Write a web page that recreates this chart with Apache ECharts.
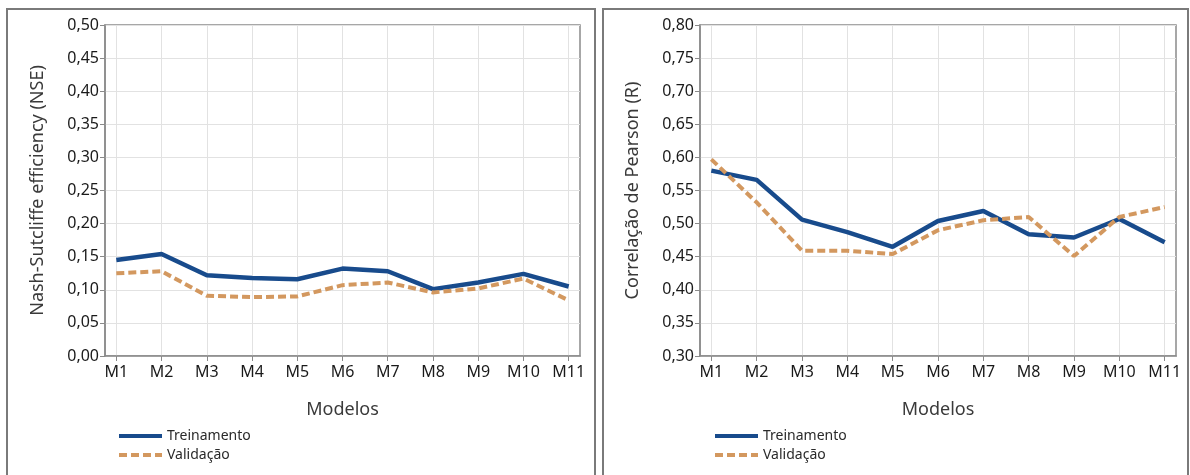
<!DOCTYPE html>
<html>
<head>
<meta charset="utf-8">
<script src="https://cdn.jsdelivr.net/npm/echarts@6/dist/echarts.min.js"></script>
<style>
html,body{margin:0;padding:0;background:#fff;}
#chart{width:1190px;height:475px;}
</style>
</head>
<body>
<div id="chart"></div>
<script>
const categories = ['M1','M2','M3','M4','M5','M6','M7','M8','M9','M10','M11'];
const nseTreino = [0.145,0.154,0.122,0.118,0.116,0.132,0.128,0.101,0.111,0.124,0.105];
const nseValid  = [0.125,0.128,0.091,0.089,0.090,0.107,0.111,0.096,0.102,0.117,0.084];
const rTreino   = [0.580,0.566,0.506,0.487,0.465,0.504,0.519,0.484,0.479,0.507,0.472];
const rValid    = [0.597,0.532,0.459,0.459,0.454,0.490,0.505,0.510,0.451,0.510,0.525];
const nseTicks = ['0,00','0,05','0,10','0,15','0,20','0,25','0,30','0,35','0,40','0,45','0,50'];
const rTicks = ['0,30','0,35','0,40','0,45','0,50','0,55','0,60','0,65','0,70','0,75','0,80'];
const seriesNames = ['Treinamento','Validação'];

const FONT = "'Noto Sans', 'Open Sans', sans-serif";
const BLUE = '#184b8c';
const ORANGE = '#d3985f';
const idx = categories.map((c,i)=>i+1);
const pairs = arr => arr.map((v,i)=>[i+1, v]);

function xAxis(gridIndex){
  return {
    type:'value', gridIndex, min:0.75, max:11.25,
    name:'Modelos', nameLocation:'middle', nameGap:45,
    nameTextStyle:{fontSize:18, color:'#3a3a3a', fontFamily:FONT},
    axisLine:{show:true, onZero:false, lineStyle:{color:'#8a8a8a', width:1.5}},
    axisTick:{show:true, customValues:idx, length:5, lineStyle:{color:'#8a8a8a'}},
    axisLabel:{customValues:idx, formatter:v=>categories[Math.round(v)-1]||'', fontSize:16, color:'#1a1a1a', fontFamily:FONT, margin:8},
    splitLine:{show:true, lineStyle:{color:'#e2e2e2', width:1}}
  };
}
function yAxis(gridIndex, min, max, ticks, name){
  return {
    type:'value', gridIndex, min, max, interval:0.05,
    name, nameLocation:'middle', nameGap:58,
    nameTextStyle:{fontSize:18, color:'#3a3a3a', fontFamily:FONT},
    axisLine:{show:true, lineStyle:{color:'#8a8a8a', width:1.5}},
    axisTick:{show:true, length:5, lineStyle:{color:'#8a8a8a'}},
    axisLabel:{fontSize:16, color:'#1a1a1a', fontFamily:FONT, margin:6,
      formatter:v=>ticks[Math.round((v-min)/0.05)]},
    splitLine:{show:true, lineStyle:{color:'#e2e2e2', width:1}}
  };
}
function line(name, data, xi, color, dashed){
  return {
    type:'line', name, xAxisIndex:xi, yAxisIndex:xi, data,
    symbol:'none', smooth:false,
    lineStyle:{color, width:dashed?4:4.5, type:dashed?[8,4]:'solid'},
    itemStyle:{color},
    z: dashed?3:2
  };
}
function legend(left){
  return {orient:'vertical', left, top:424, itemWidth:43, itemHeight:12, itemGap:5, data:seriesNames,
    itemStyle:{opacity:0}, lineStyle:{width:4},
    textStyle:{fontSize:14, color:'#2a2a2a', fontFamily:FONT}, selectedMode:false};
}

const chart = echarts.init(document.getElementById('chart'), null, {renderer:'canvas'});
chart.setOption({
  animation:false,
  backgroundColor:'#ffffff',
  grid:[
    {left:105, top:25, right:610, bottom:119, show:true, borderColor:'#8a8a8a', borderWidth:1.5, backgroundColor:'transparent'},
    {left:700, top:25, right:14, bottom:119, show:true, borderColor:'#8a8a8a', borderWidth:1.5, backgroundColor:'transparent'}
  ],
  xAxis:[xAxis(0), xAxis(1)],
  yAxis:[yAxis(0,0,0.5,nseTicks,'Nash-Sutcliffe efficiency (NSE)'), yAxis(1,0.3,0.8,rTicks,'Correlação de Pearson (R)')],
  legend:[legend(112), legend(708)],
  graphic:[
    {type:'rect', shape:{x:7, y:9, width:588, height:500}, style:{fill:'none', stroke:'#7a7a7a', lineWidth:2}, silent:true},
    {type:'rect', shape:{x:603, y:9, width:585, height:500}, style:{fill:'none', stroke:'#7a7a7a', lineWidth:2}, silent:true}
  ],
  series:[
    line(seriesNames[0], pairs(nseTreino), 0, BLUE, false),
    line(seriesNames[1], pairs(nseValid), 0, ORANGE, true),
    line(seriesNames[0], pairs(rTreino), 1, BLUE, false),
    line(seriesNames[1], pairs(rValid), 1, ORANGE, true)
  ]
});
</script>
</body>
</html>
